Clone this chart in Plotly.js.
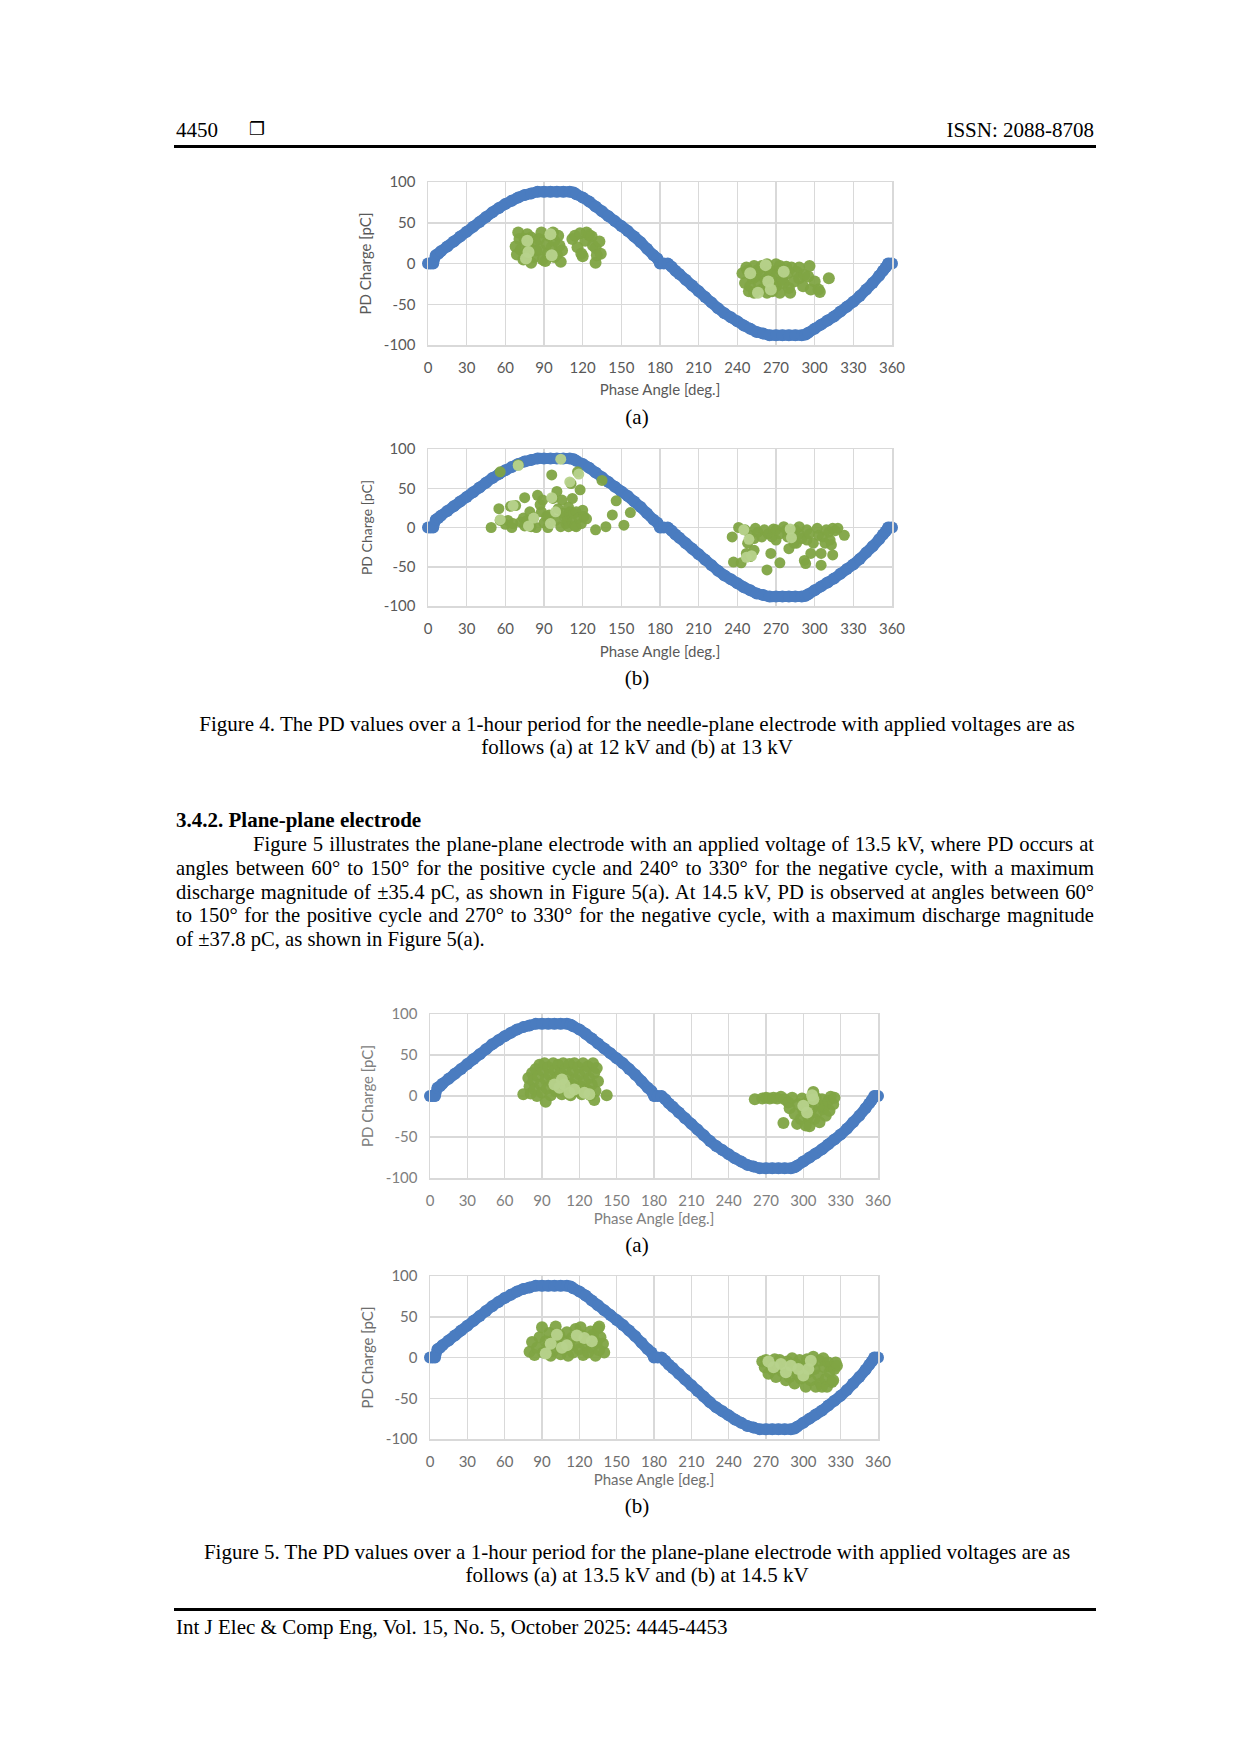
<!DOCTYPE html>
<html>
<head>
<meta charset="utf-8">
<script src="https://cdn.plot.ly/plotly-3.0.1.min.js"></script>
<style>
  html, body { margin:0; padding:0; background:#fff; }
  #page { position:relative; width:1240px; height:1754px; overflow:hidden; font-family:"Liberation Serif","Times New Roman",serif; color:#000; }
  .t { position:absolute; font-size:21px; line-height:24px; white-space:nowrap; }
  .rule { position:absolute; background:#000; height:3px; }
  .cap { position:absolute; left:137px; width:1000px; text-align:center; font-size:21px; line-height:23px; }
  .chart { position:absolute; }
  .pl { position:absolute; left:176px; width:918px; font-size:20.6px; line-height:24px; }
  .pl div { text-align:justify; text-align-last:justify; white-space:nowrap; }
  .pl div.last { text-align-last:left; }
</style>
</head>
<body>
<div id="page">
  <div class="t" style="left:176px; top:118px;">4450</div>
  <div class="t" style="left:249px; top:117px; font-family:'DejaVu Sans'; font-size:18px;">&#x2750;</div>
  <div class="t" style="right:146px; top:118px;">ISSN: 2088-8708</div>
  <div class="rule" style="left:174px; width:922px; top:145px;"></div>

  <div id="c1" class="chart" style="left:290px; top:150px; width:630px; height:260px;"></div>
  <div class="cap" style="top:406px;">(a)</div>
  <div id="c2" class="chart" style="left:290px; top:420px; width:630px; height:250px;"></div>
  <div class="cap" style="top:667px;">(b)</div>

  <div class="cap" style="top:713px;">Figure 4. The PD values over a 1-hour period for the needle-plane electrode with applied voltages are as<br>follows (a) at 12 kV and (b) at 13 kV</div>

  <div class="t" style="left:176px; top:808px; font-weight:bold;">3.4.2. Plane-plane electrode</div>
  <div class="pl" style="top:833px; line-height:23.8px;">
    <div style="text-indent:77px;">Figure 5 illustrates the plane-plane electrode with an applied voltage of 13.5 kV, where PD occurs at</div>
    <div>angles between 60° to 150° for the positive cycle and 240° to 330° for the negative cycle, with a maximum</div>
    <div>discharge magnitude of ±35.4 pC, as shown in Figure 5(a). At 14.5 kV, PD is observed at angles between 60°</div>
    <div>to 150° for the positive cycle and 270° to 330° for the negative cycle, with a maximum discharge magnitude</div>
    <div class="last">of ±37.8 pC, as shown in Figure 5(a).</div>
  </div>

  <div id="c3" class="chart" style="left:290px; top:985px; width:620px; height:250px;"></div>
  <div class="cap" style="top:1234px;">(a)</div>
  <div id="c4" class="chart" style="left:290px; top:1245px; width:620px; height:250px;"></div>
  <div class="cap" style="top:1495px;">(b)</div>

  <div class="cap" style="top:1541px;">Figure 5. The PD values over a 1-hour period for the plane-plane electrode with applied voltages are as<br>follows (a) at 13.5 kV and (b) at 14.5 kV</div>

  <div class="rule" style="left:174px; width:922px; top:1608px;"></div>
  <div class="t" style="left:176px; top:1615px;">Int J Elec &amp; Comp Eng, Vol. 15, No. 5, October 2025: 4445-4453</div>
</div>

<script>
// ---------- Data ----------
var xTickVals = [0,30,60,90,120,150,180,210,240,270,300,330,360];
var yTickVals = [-100,-50,0,50,100];

// Applied voltage reference waveform (blue)
var refPhase = [0,2,4,6,8,10,15,20,25,30,35,40,45,50,55,60,65,70,75,80,85,90,95,100,105,110,113,115,120,125,130,135,140,145,150,155,160,165,170,175,178,180,183,186,189,192,195,200,205,210,215,220,225,230,235,240,245,250,255,260,265,270,275,280,285,290,293,295,300,305,310,315,320,325,330,335,340,345,350,353,355,357,360];
var refCharge = [0,0,0,10,12,15,21,27,33,39,45,51,57,63,68,73,77,81,84,86,88,88,88,88,88,88,87,85,81,76,70,64,58,52,46,40,33,26,18,10,6,0,0,0,-4,-9,-13,-20,-27,-34,-41,-48,-55,-61,-66,-71,-76,-80,-84,-86,-88,-88,-88,-88,-88,-88,-87,-85,-80,-75,-70,-65,-59,-53,-47,-40,-32,-24,-15,-9,-5,0,0];

// Figure 4(a) needle-plane 12 kV
var f4aPhase = [68,69,70,71,72,74,75,76,77,78,80,80,82,83,84,86,87,88,89,91,92,93,94,96,97,98,98,100,101,102,103,104,
  112,114,116,118,119,120,122,123,125,127,128,130,130,131,133,134,
  244,246,247,248,249,250,252,253,253,254,256,257,259,259,260,262,263,263,265,266,267,267,268,270,270,271,273,273,274,275,276,278,279,280,281,282,284,286,288,288,291,292,295,296,297,300,303,304,311];
var f4aCharge = [21,11,38,30,17,5,30,13,36,22,1,32,8,27,16,30,17,38,5,3,24,12,34,20,38,28,8,11,34,22,2,16,
  30,34,20,37,12,9,28,38,35,33,22,19,1,10,27,12,
  -12,-24,-5,-9,-34,-28,-18,-36,-3,-16,-8,-26,-3,-32,-14,-20,-1,-36,-10,-9,-20,-34,-28,-1,-28,-14,-3,-36,-9,-20,-24,-4,-12,-30,-36,-5,-22,-10,-5,-18,-28,-14,-16,-3,-32,-22,-32,-35,-18];
var f4aLightPhase = [77,78,95,96,76,262,264,266,250,256,276];
var f4aLightCharge = [28,14,36,10,6,-2,-22,-32,-12,-36,-10];

// Figure 4(b) needle-plane 13 kV
var f4bPhase = [49,55,56,56,60,62,64,65,66,68,70,72,74,75,75,77,79,80,82,84,85,87,88,89,90,92,93,94,96,97,99,100,101,103,104,105,106,107,108,109,109,110,111,112,112,113,114,115,115,116,117,118,119,120,121,123,130,135,138,143,146,152,157,
  236,237,241,243,246,247,248,250,250,253,253,254,256,259,261,263,264,266,267,268,270,270,273,273,276,278,279,280,280,282,284,285,286,288,288,290,292,293,294,294,296,297,299,302,303,305,305,306,308,309,311,312,313,314,314,316,318,323];
var f4bCharge = [0,24,9,71,4,9,27,0,5,28,80,7,12,2,38,9,20,1,13,0,41,29,20,35,6,14,0,16,67,37,9,46,24,1,35,18,14,5,9,26,1,20,56,37,7,18,2,1,20,71,12,48,5,22,14,11,-3,60,1,16,34,3,19,
  -12,-44,0,-45,-3,-33,-20,-37,-10,-14,-29,-1,-6,-12,-3,-54,-8,-33,-12,-2,-16,-3,-8,-45,1,-3,-12,-27,-6,-12,-20,-3,-20,-8,1,-14,-42,-46,-3,-16,-8,-33,-20,-1,-10,-33,-48,-12,-20,-3,-6,-16,-22,-1,-35,-4,-1,-10];
var f4bLightPhase = [56,66,70,78,82,95,96,103,110,117,99,245,247,249,251,281,282];
var f4bLightCharge = [10,28,79,2,12,5,38,87,58,68,20,-3,-38,-15,-36,-2,-13];

// Figure 5(a) plane-plane 13.5 kV
var f5aPhase = [75,79,80,81,82,83,84,85,86,87,88,89,90,91,92,93,93,94,95,96,97,98,99,100,101,102,103,104,105,106,107,108,109,110,111,112,113,114,115,116,117,118,119,120,121,122,123,124,125,126,127,128,129,130,131,132,132,133,134,135,142,
  261,267,270,273,276,279,282,285,284,288,289,291,293,295,296,298,299,300,302,303,304,305,305,307,308,309,310,311,312,313,315,316,317,318,320,321,322,324,325];
var f5aCharge = [2,22,12,3,28,18,8,33,0,24,38,14,4,30,40,-7,20,9,35,26,1,16,40,31,6,22,38,12,28,2,40,18,33,8,24,39,1,14,30,40,20,6,35,26,12,2,40,18,30,8,36,22,1,14,40,28,-5,6,34,18,1,
  -4,-3,-2,-3,-2,-3,-1,-4,-33,-8,-15,-2,-22,-34,-10,-28,-3,-18,-36,-8,-25,-37,-5,-15,5,-28,-2,-20,-10,-32,-4,-16,-13,-24,-6,-18,-1,-10,-2];
var f5aLightPhase = [104,108,112,106,116,100,124,128,307,308,300,303];
var f5aLightCharge = [10,14,4,20,8,14,4,2,1,-4,-12,-20];

// Figure 5(b) plane-plane 14.5 kV
var f5bPhase = [80,82,84,86,88,90,91,93,95,96,97,99,100,101,103,104,105,107,108,110,111,112,114,115,117,118,120,121,122,123,125,126,127,129,130,131,133,134,135,136,137,139,140,136,
  267,269,270,272,274,275,277,278,280,281,283,284,286,287,289,290,291,293,294,295,297,298,300,302,303,304,306,307,308,309,310,312,313,314,315,316,317,318,319,320,321,322,323,324,325,326,327];
var f5bCharge = [7,19,3,12,25,37,6,20,14,30,2,8,22,38,15,28,4,10,20,31,2,14,24,6,35,18,10,37,27,3,15,22,6,32,12,28,2,18,36,9,25,17,6,38,
  -5,-12,-3,-20,-8,-15,-2,-24,-10,-3,-17,-11,-28,-5,-24,-14,-1,-32,-8,-20,-3,-26,-12,-36,-2,-18,-28,-6,1,-14,-36,-22,-4,-32,-36,-1,-12,-26,-36,-6,-18,-11,-30,-28,-14,-6,-10];
var f5bLightPhase = [93,97,102,106,118,124,110,130,272,276,282,286,290,296,300,306,304];
var f5bLightCharge = [5,17,28,12,27,24,15,20,-5,-12,-8,-18,-10,-14,-22,-4,-14];

// ---------- Drawing ----------
var BLUE = '#4a7cc0';
var GREEN = '#7fa443';
var LIGHT = '#b7d28c';

function traces(ph, ch, lph, lch, msize) {
  return [
    {x: refPhase, y: refCharge, type:'scatter', mode:'lines+markers',
     line:{color:BLUE, width:11, shape:'spline', smoothing:0.6}, marker:{color:BLUE, size:12}, cliponaxis:false, hoverinfo:'skip', name:'Voltage'},
    {x: ph, y: ch, type:'scatter', mode:'markers',
     marker:{color:GREEN, size:msize, opacity:0.95}, cliponaxis:false, name:'PD'},
    {x: lph, y: lch, type:'scatter', mode:'markers',
     marker:{color:LIGHT, size:msize, opacity:0.95}, cliponaxis:false, name:'PD'}
  ];
}

function layoutFor(m, col, ytitleSize, xStand, yStand) {
  var f = {family:'Lato, "Open Sans", sans-serif', size:15, color:col};
  return {
    width: m.w, height: m.h,
    margin: {l:m.l, r:m.r, t:m.t, b:m.b, pad:0},
    paper_bgcolor:'rgba(0,0,0,0)', plot_bgcolor:'#fff',
    showlegend:false,
    font: f,
    xaxis: {range:[0,360], tickvals:xTickVals, ticktext:xTickVals.map(String),
      showgrid:true, gridcolor:'#d9d9d9', gridwidth:1.5, zeroline:false,
      showline:true, mirror:true, linecolor:'#d9d9d9', linewidth:1.5,
      ticks:'', tickfont:f, ticklabelstandoff:8,
      title:{text:'Phase Angle [deg.]', font:f, standoff:xStand}},
    yaxis: {range:[-100,100], tickvals:yTickVals, ticktext:yTickVals.map(String),
      showgrid:true, gridcolor:'#d9d9d9', gridwidth:1.5, zeroline:false,
      showline:true, mirror:true, linecolor:'#d9d9d9', linewidth:1.5,
      ticks:'', tickfont:f, ticklabelstandoff:8,
      title:{text:'PD Charge [pC]', font:{family:f.family, size:ytitleSize, color:col}, standoff:yStand}}
  };
}

var cfg = {staticPlot:true, displayModeBar:false};

Plotly.newPlot('c1', traces(f4aPhase, f4aCharge, f4aLightPhase, f4aLightCharge, 12),
  layoutFor({w:630,h:260,l:138,r:28,t:32,b:65}, '#595959', 15, 10, 8), cfg);
Plotly.newPlot('c2', traces(f4bPhase, f4bCharge, f4bLightPhase, f4bLightCharge, 11),
  layoutFor({w:630,h:250,l:138,r:28,t:29,b:64}, '#595959', 14, 11, 8), cfg);
Plotly.newPlot('c3', traces(f5aPhase, f5aCharge, f5aLightPhase, f5aLightCharge, 12),
  layoutFor({w:620,h:250,l:140,r:32,t:29,b:57}, '#808080', 15, 6, 8), cfg);
Plotly.newPlot('c4', traces(f5bPhase, f5bCharge, f5bLightPhase, f5bLightCharge, 12),
  layoutFor({w:620,h:250,l:140,r:32,t:31,b:56}, '#6e6e6e', 15, 5, 8), cfg);
</script>
</body>
</html>
